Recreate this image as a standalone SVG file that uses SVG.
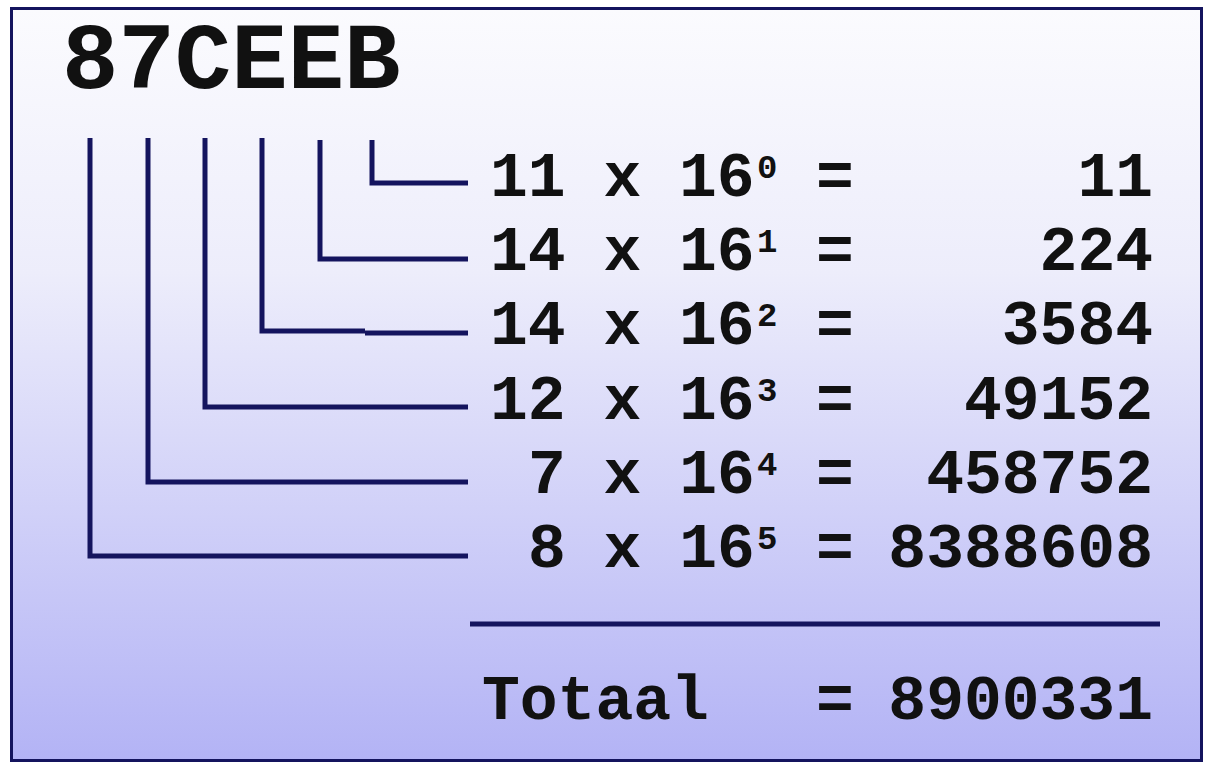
<svg xmlns="http://www.w3.org/2000/svg" width="1207" height="763" viewBox="0 0 1207 763">
  <defs>
    <linearGradient id="bg" x1="0" y1="0" x2="0" y2="1">
      <stop offset="0" stop-color="#FBFBFE"/>
      <stop offset="0.35" stop-color="#EDEDFB"/>
      <stop offset="1" stop-color="#B3B3F5"/>
    </linearGradient>
    <style>
      .t { font-family: "Liberation Mono", "Courier New", monospace; font-weight: bold; fill: #111111; }
      .row { font-size: 63px; }
      .sup { font-size: 34px; }
      .num { font-size: 63px; text-anchor: end; }
      .conn { fill: none; stroke: #14145E; stroke-width: 5; stroke-linejoin: miter; stroke-linecap: butt; }
    </style>
  </defs>
  <rect x="0" y="0" width="1207" height="763" fill="#FFFFFF"/>
  <rect id="frame" x="11.5" y="8.5" width="1190" height="752" fill="url(#bg)" stroke="#14145E" stroke-width="3"/>

  <g id="title">
    <text class="t" x="62" y="88" font-size="94">87CEEB</text>
  </g>

  <g id="connectors">
    <polyline class="conn" points="372,140 372,183 468,183"/>
    <polyline class="conn" points="320,140 320,259 468,259"/>
    <polyline class="conn" points="262,138 262,331 365,331"/>
    <line class="conn" x1="365" y1="333" x2="468" y2="333"/>
    <polyline class="conn" points="205,138 205,407 468,407"/>
    <polyline class="conn" points="148,138 148,482 468,482"/>
    <polyline class="conn" points="90,138 90,556 468,556"/>
    <line class="conn" x1="470" y1="624" x2="1160" y2="624"/>
  </g>

  <g id="row0">
    <text class="t row" x="490" y="196">11 x 16</text>
    <text class="t sup" x="757" y="178">0</text>
    <text class="t row" x="816" y="196">=</text>
    <text class="t num" x="1153" y="196">11</text>
  </g>
  <g id="row1">
    <text class="t row" x="490" y="270">14 x 16</text>
    <text class="t sup" x="757" y="252">1</text>
    <text class="t row" x="816" y="270">=</text>
    <text class="t num" x="1153" y="270">224</text>
  </g>
  <g id="row2">
    <text class="t row" x="490" y="344">14 x 16</text>
    <text class="t sup" x="757" y="326">2</text>
    <text class="t row" x="816" y="344">=</text>
    <text class="t num" x="1153" y="344">3584</text>
  </g>
  <g id="row3">
    <text class="t row" x="490" y="419">12 x 16</text>
    <text class="t sup" x="757" y="401">3</text>
    <text class="t row" x="816" y="419">=</text>
    <text class="t num" x="1153" y="419">49152</text>
  </g>
  <g id="row4">
    <text class="t row" x="528" y="493">7 x 16</text>
    <text class="t sup" x="757" y="475">4</text>
    <text class="t row" x="816" y="493">=</text>
    <text class="t num" x="1153" y="493">458752</text>
  </g>
  <g id="row5">
    <text class="t row" x="528" y="567">8 x 16</text>
    <text class="t sup" x="757" y="549">5</text>
    <text class="t row" x="816" y="567">=</text>
    <text class="t num" x="1153" y="567">8388608</text>
  </g>
  <g id="total">
    <text class="t row" x="482" y="719">Totaal</text>
    <text class="t row" x="816" y="719">=</text>
    <text class="t num" x="1153" y="719">8900331</text>
  </g>
</svg>
